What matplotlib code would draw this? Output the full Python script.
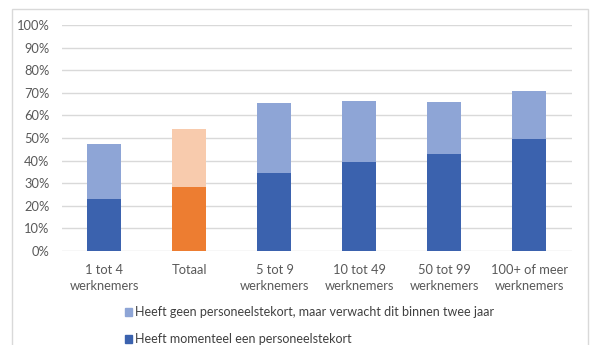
import matplotlib.pyplot as plt
from matplotlib.patches import Patch, Rectangle
import numpy as np

categories = ["1 tot 4\nwerknemers", "Totaal", "5 tot 9\nwerknemers",
              "10 tot 49\nwerknemers", "50 tot 99\nwerknemers", "100+ of meer\nwerknemers"]
# share of companies (%)
tekort_nu = [22.8, 28.1, 34.7, 39.3, 42.7, 49.4]
tekort_verwacht = [24.6, 25.7, 30.7, 27.2, 23.3, 21.5]

label_verwacht = "Heeft geen personeelstekort, maar verwacht dit binnen twee jaar"
label_nu = "Heeft momenteel een personeelstekort"

dark_blue = "#3b62ae"
light_blue = "#8ea5d6"
dark_cols = [dark_blue, "#ed7d31"] + [dark_blue] * 4
light_cols = [light_blue, "#f8cbad"] + [light_blue] * 4

plt.rcParams['font.family'] = ['Lato', 'DejaVu Sans']

fig = plt.figure(figsize=(6, 3.45), dpi=100)
ax = fig.add_axes([0.1033, 0.2725, 0.85, 0.655])

x = np.arange(len(categories))
nu = np.array(tekort_nu) / 100
verwacht = np.array(tekort_verwacht) / 100
ax.bar(x, nu, width=0.4, color=dark_cols, zorder=3)
ax.bar(x, verwacht, width=0.4, bottom=nu, color=light_cols, zorder=3)

ax.set_xlim(-0.5, len(categories) - 0.5)
ax.set_ylim(0, 1)
ax.set_yticks(np.arange(0, 1.01, 0.1))
ax.set_yticklabels([f"{int(round(v * 100))}%" for v in np.arange(0, 1.01, 0.1)])
ax.set_xticks(x)
ax.set_xticklabels(categories, linespacing=1.35)
ax.tick_params(length=0, colors="#595959", labelsize=9.3)
ax.tick_params(axis='y', pad=9)
ax.tick_params(axis='x', pad=9.5)
ax.grid(axis='y', color="#d9d9d9", linewidth=1, zorder=0)
for s in ax.spines.values():
    s.set_visible(False)

handles = [Patch(color=light_blue, label=label_verwacht),
           Patch(color=dark_blue, label=label_nu)]
fig.legend(handles=handles, loc='upper left', bbox_to_anchor=(0.208, 0.112),
           frameon=False, handlelength=0.55, handleheight=0.55, handletextpad=0.3,
           labelspacing=1.2, fontsize=9, labelcolor="#404040", borderpad=0,
           borderaxespad=0)

# chart area border
fig.add_artist(Rectangle((0.0195, -0.02), 0.96, 0.993, transform=fig.transFigure,
                         fill=False, edgecolor="#d9d9d9", linewidth=1))

fig.savefig("out.png", dpi=100)
